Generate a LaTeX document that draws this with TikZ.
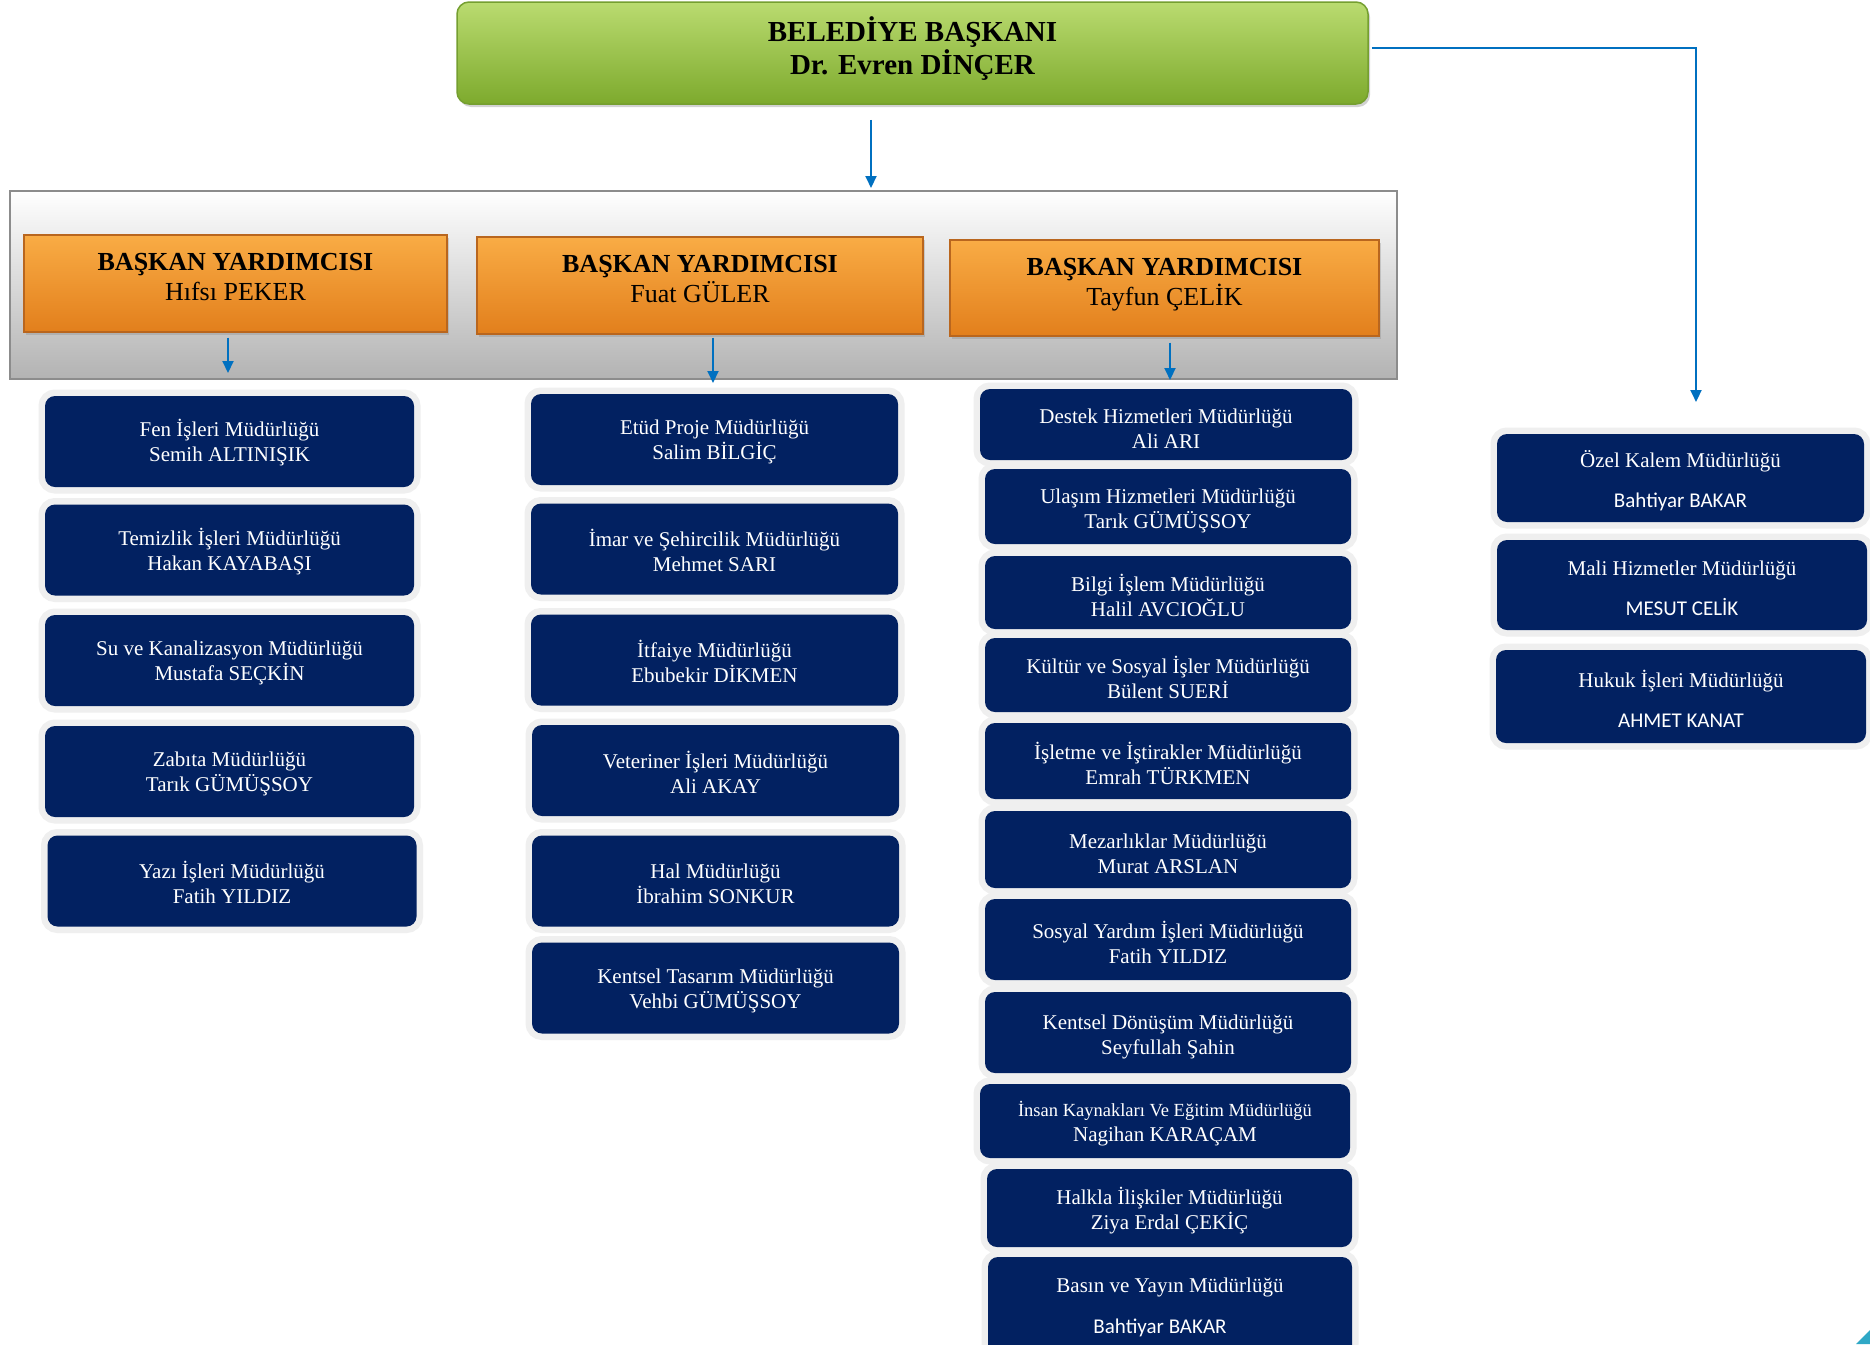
\documentclass[tikz,border=0pt]{standalone}
\usepackage{fontspec}
\setmainfont{Liberation Serif}
\newfontfamily\calib{Carlito}
\usetikzlibrary{arrows.meta,shadows}
\definecolor{navy}{HTML}{022161}
\definecolor{ringc}{HTML}{EFEFEF}
\definecolor{arrblue}{HTML}{0070C0}
\definecolor{contborder}{HTML}{8C8C8C}
\definecolor{grtop}{HTML}{BADB70}
\definecolor{grmid}{HTML}{9CC843}
\definecolor{grbot}{HTML}{7DAA2D}
\definecolor{grdraw}{HTML}{759F30}
\definecolor{ortop}{HTML}{F9AC45}
\definecolor{ormid}{HTML}{F7931E}
\definecolor{orbot}{HTML}{E27F1C}
\definecolor{ordraw}{HTML}{B9661E}
\definecolor{teal}{HTML}{2FA8C6}
\newcommand\tsA{\rule{0pt}{20pt}}
\newcommand\tsB{\rule{0pt}{23pt}}
\newcommand\tsC{\rule{0pt}{22pt}}
\begin{document}
\begin{tikzpicture}[x=1pt,y=-1pt,
  cont/.style={draw=contborder,line width=2.5pt,top color=white,bottom color=black!30,inner sep=0pt},
  titlebox/.style={draw=grdraw,line width=1.5pt,rounded corners=12pt,top color=grtop,middle color=grmid,bottom color=grbot,
     drop shadow={shadow xshift=2pt,shadow yshift=-3pt,opacity=0.35},
     font=\bfseries\fontsize{29}{33}\selectfont,align=center,inner sep=0pt,
     execute at end node={\rule[-15pt]{0pt}{15pt}}},
  vpbox/.style={draw=ordraw,line width=1.2pt,top color=ortop,middle color=ormid,bottom color=orbot,
     drop shadow={shadow xshift=2pt,shadow yshift=-3pt,opacity=0.3},
     font=\fontsize{26}{30}\selectfont,align=center,inner sep=0pt,
     execute at end node={\rule[-13pt]{0pt}{13pt}}},
  dbox/.style={fill=navy,rounded corners=10pt,preaction={draw=ringc,line width=13pt},
     text=white,font=\fontsize{21}{25}\selectfont,align=center,inner sep=0pt,
     minimum width=369pt,minimum height=91pt},
  arr/.style={draw=arrblue,line width=2pt,-{Triangle[length=12pt,width=11pt]}}
]
\useasboundingbox (0,0) rectangle (1870,1344);
\fill[white] (0,0) rectangle (1870,1344);

% container
\node[cont,minimum width=1387pt,minimum height=188pt] (cont) at (703.5,285) {};

% mayor
\node[titlebox,minimum width=911pt,minimum height=102pt] (baskan) at (912.5,53) {BELEDİYE BAŞKANI\\Dr. Evren DİNÇER};

% vice mayors
\node[vpbox,minimum width=423pt,minimum height=97pt] (vp1) at (235.5,283.5) {\textbf{BAŞKAN YARDIMCISI}\\Hıfsı PEKER};
\node[vpbox,minimum width=446pt,minimum height=97pt] (vp2) at (700,285.5) {\textbf{BAŞKAN YARDIMCISI}\\Fuat GÜLER};
\node[vpbox,minimum width=429pt,minimum height=96pt] (vp3) at (1164.5,288) {\textbf{BAŞKAN YARDIMCISI}\\Tayfun ÇELİK};

% column 1
\node[dbox] (c1a) at (229.5,441.5) {\tsA Fen İşleri Müdürlüğü\\Semih ALTINIŞIK};
\node[dbox] (c1b) at (229.5,550) {\tsA Temizlik İşleri Müdürlüğü\\Hakan KAYABAŞI};
\node[dbox] (c1c) at (229.5,660.5) {\tsA Su ve Kanalizasyon Müdürlüğü\\Mustafa SEÇKİN};
\node[dbox] (c1d) at (229.5,771.5) {\tsA Zabıta Müdürlüğü\\Tarık GÜMÜŞSOY};
\node[dbox] (c1e) at (232,881) {\tsA Yazı İşleri Müdürlüğü\\Fatih YILDIZ};

% column 2
\node[dbox,minimum width=367pt] (c2a) at (714.5,439.5) {\tsA Etüd Proje Müdürlüğü\\Salim BİLGİÇ};
\node[dbox,minimum width=367pt] (c2b) at (714.5,549) {\tsA İmar ve Şehircilik Müdürlüğü\\Mehmet SARI};
\node[dbox,minimum width=367pt] (c2c) at (714.5,660) {\tsA İtfaiye Müdürlüğü\\Ebubekir DİKMEN};
\node[dbox,minimum width=367pt] (c2d) at (715.5,770.5) {\tsA Veteriner İşleri Müdürlüğü\\Ali AKAY};
\node[dbox,minimum width=367pt] (c2e) at (715.5,881) {\tsA Hal Müdürlüğü\\İbrahim SONKUR};
\node[dbox,minimum width=367pt] (c2f) at (715.5,988) {\tsA Kentsel Tasarım Müdürlüğü\\Vehbi GÜMÜŞSOY};

% column 3
\node[dbox,minimum width=372pt,minimum height=71pt] (c3a) at (1166,424.5) {\tsB Destek Hizmetleri Müdürlüğü\\Ali ARI};
\node[dbox,minimum width=366pt,minimum height=75pt] (c3b) at (1168,506.5) {\tsB Ulaşım Hizmetleri Müdürlüğü\\Tarık GÜMÜŞSOY};
\node[dbox,minimum width=366pt,minimum height=73pt] (c3c) at (1168,592.5) {\tsB Bilgi İşlem Müdürlüğü\\Halil AVCIOĞLU};
\node[dbox,minimum width=366pt,minimum height=74pt] (c3d) at (1168,675) {\tsB Kültür ve Sosyal İşler Müdürlüğü\\Bülent SUERİ};
\node[dbox,minimum width=366pt,minimum height=76pt] (c3e) at (1168,761) {\tsB İşletme ve İştirakler Müdürlüğü\\Emrah TÜRKMEN};
\node[dbox,minimum width=366pt,minimum height=77pt] (c3f) at (1168,849.5) {\tsB Mezarlıklar Müdürlüğü\\Murat ARSLAN};
\node[dbox,minimum width=366pt,minimum height=81pt] (c3g) at (1168,939.5) {\tsB Sosyal Yardım İşleri Müdürlüğü\\Fatih YILDIZ};
\node[dbox,minimum width=366pt,minimum height=81pt] (c3h) at (1168,1032.5) {\tsB Kentsel Dönüşüm Müdürlüğü\\Seyfullah Şahin};
\node[dbox,minimum width=370pt,minimum height=74pt] (c3i) at (1165,1121) {{\fontsize{18.5}{22}\selectfont\rule{0pt}{20pt}İnsan Kaynakları Ve Eğitim Müdürlüğü}\\Nagihan KARAÇAM};
\node[dbox,minimum width=365pt,minimum height=78pt] (c3j) at (1169.5,1208) {\tsB Halkla İlişkiler Müdürlüğü\\Ziya Erdal ÇEKİÇ};
\node[dbox,minimum width=364pt,minimum height=100pt] (c3k) at (1170,1307) {Basın ve Yayın Müdürlüğü\\[16pt]{\calib\hspace*{-20pt}Bahtiyar BAKAR}};

% column 4
\node[dbox,minimum width=367pt,minimum height=88pt] (c4a) at (1680.5,478) {\tsC Özel Kalem Müdürlüğü\\[15pt]{\calib Bahtiyar BAKAR}};
\node[dbox,minimum width=370pt,minimum height=90pt] (c4b) at (1682,585) {\tsC Mali Hizmetler Müdürlüğü\\[15pt]{\calib MESUT CELİK}};
\node[dbox,minimum width=370pt,minimum height=93pt] (c4c) at (1681,696.5) {\tsC Hukuk İşleri Müdürlüğü\\[15pt]{\calib AHMET KANAT}};

% connectors
\coordinate (t0) at (871,188);
\draw[arr] (baskan.south -| t0) ++(0,15) -- (t0);
\coordinate (t4) at (1696,402);
\draw[arr] ([yshift=5pt]baskan.east) ++(3,0) -| (t4);
\coordinate (t1) at (228,373);
\draw[arr] (vp1.south -| t1) ++(0,5) -- (t1);
\coordinate (t2) at (713,383);
\draw[arr] (vp2.south -| t2) ++(0,3) -- (t2);
\coordinate (t3) at (1170,380);
\draw[arr] (vp3.south -| t3) ++(0,6) -- (t3);

% corner decoration
\fill[teal] (1856,1344) -- (1870,1330) -- (1870,1344) -- cycle;
\end{tikzpicture}
\end{document}
